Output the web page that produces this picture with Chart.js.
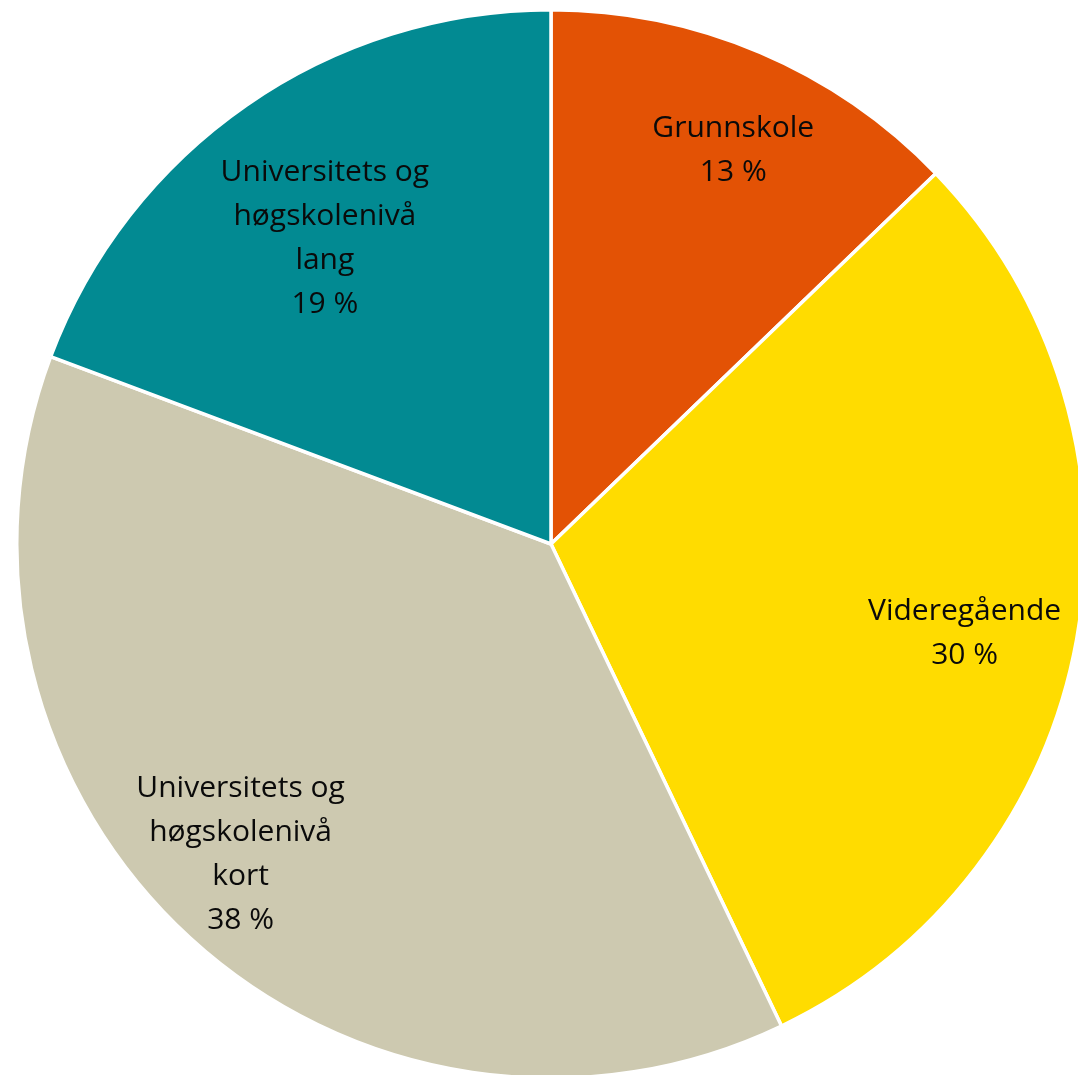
<!DOCTYPE html>
<html>
<head>
<meta charset="utf-8">
<script src="https://cdn.jsdelivr.net/npm/chart.js@4/dist/chart.umd.min.js"></script>
<style>
  html, body { margin: 0; padding: 0; background: #ffffff; overflow: hidden; width: 1078px; height: 1075px; }
  #wrap { position: absolute; left: 15px; top: 8px; width: 1072px; height: 1072px; }
</style>
</head>
<body>
<div id="wrap"><canvas id="c"></canvas></div>
<script>
const categories = ["Grunnskole", "Videregående", "Universitets og høgskolenivå kort", "Universitets og høgskolenivå lang"];
const labelLines = [["Grunnskole"], ["Videregående"], ["Universitets og", "høgskolenivå", "kort"], ["Universitets og", "høgskolenivå", "lang"]];
const values = [12.8, 30.1, 37.8, 19.3];
const percentLabels = ["13 %", "30 %", "38 %", "19 %"];
const colors = ["#E35205", "#FFDC00", "#CDC9B0", "#028A92"];
const labelRadius = [0.812, 0.792, 0.822, 0.711];
const labelAngleShift = [1.8, 1.9, 2.5, -1.8];

const labelPlugin = {
  id: 'sliceLabels',
  afterDatasetsDraw(chart) {
    const ctx = chart.ctx;
    const meta = chart.getDatasetMeta(0);
    ctx.save();
    ctx.font = '30px "Open Sans", Lato, sans-serif';
    ctx.fillStyle = '#0a0a0a';
    ctx.textAlign = 'center';
    ctx.textBaseline = 'middle';
    const lh = 44;
    meta.data.forEach((arc, i) => {
      const p = arc.getProps(['x', 'y', 'startAngle', 'endAngle', 'outerRadius'], true);
      const mid = (p.startAngle + p.endAngle) / 2 + labelAngleShift[i] * Math.PI / 180;
      const r = p.outerRadius * labelRadius[i];
      const cx = p.x + Math.cos(mid) * r;
      const cy = p.y + Math.sin(mid) * r;
      const lines = labelLines[i].concat([percentLabels[i]]);
      const y0 = cy - (lines.length - 1) * lh / 2;
      lines.forEach((t, k) => ctx.fillText(t, cx, y0 + k * lh));
    });
    ctx.restore();
  }
};

new Chart(document.getElementById('c'), {
  type: 'pie',
  data: {
    labels: categories,
    datasets: [{
      data: values,
      backgroundColor: colors,
      borderColor: '#ffffff',
      borderWidth: 3.5,
      borderAlign: 'center'
    }]
  },
  options: {
    responsive: true,
    maintainAspectRatio: false,
    animation: false,
    layout: { padding: 0 },
    plugins: { legend: { display: false }, tooltip: { enabled: false } }
  },
  plugins: [labelPlugin]
});
</script>
</body>
</html>
